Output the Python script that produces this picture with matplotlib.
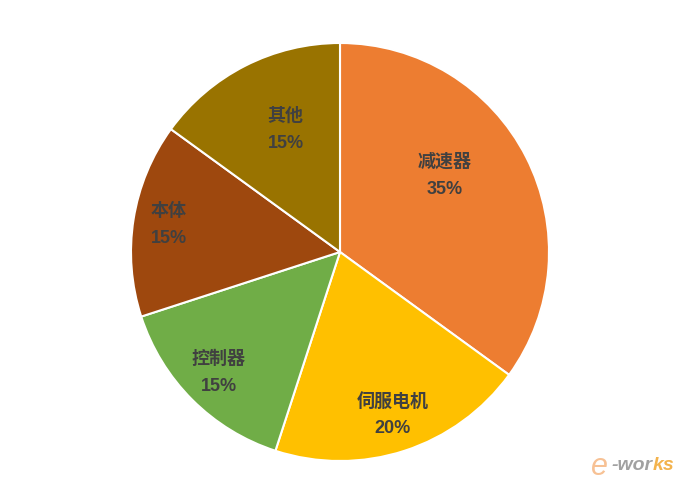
import numpy as np
import matplotlib
matplotlib.use('Agg')
import matplotlib.pyplot as plt

plt.rcParams['font.family'] = ['Liberation Sans', 'Noto Sans CJK SC', 'DejaVu Sans']

names = ['减速器', '伺服电机', '控制器', '本体', '其他']
shares = [35, 20, 15, 15, 15]
colors = ['#ED7D31', '#FFC000', '#70AD47', '#9E480E', '#997300']
# label placement: distance from centre (in radii) and angle nudge (deg)
label_dist = [0.62, 0.82, 0.82, 0.83, 0.64]
label_nudge = [9, 0, 0, 0, -3]

fig = plt.figure(figsize=(6.85, 4.95), dpi=100)
W, H = 685, 495
cx, cy, r = 340, 252, 209
ax = fig.add_axes([(cx - r) / W, (H - cy - r) / H, 2 * r / W, 2 * r / H])

wedges, _ = ax.pie(shares, colors=colors, startangle=90, counterclock=False,
                   radius=1, wedgeprops=dict(edgecolor='white', linewidth=1.5))

for w, name, s, d, n in zip(wedges, names, shares, label_dist, label_nudge):
    ang = np.deg2rad((w.theta1 + w.theta2) / 2 + n)
    ax.text(d * np.cos(ang), d * np.sin(ang), '%s\n%d%%' % (name, s),
            ha='center', va='center', fontsize=13, fontweight='bold',
            color='#404040', linespacing=1.75)

ax.set_xlim(-1, 1)
ax.set_ylim(-1, 1)
ax.set_aspect('equal')
ax.axis('off')

# watermark
fig.text(0.862, 0.04, 'e', fontsize=22, style='italic', color='#F5B27A', alpha=0.8)
fig.text(0.893, 0.05, '-wor', fontsize=14, style='italic', fontweight='bold', color='#8A8A8A', alpha=0.8)
fig.text(0.953, 0.05, 'ks', fontsize=14, style='italic', fontweight='bold', color='#F0A020', alpha=0.8)

fig.savefig('out.png', dpi=100)
